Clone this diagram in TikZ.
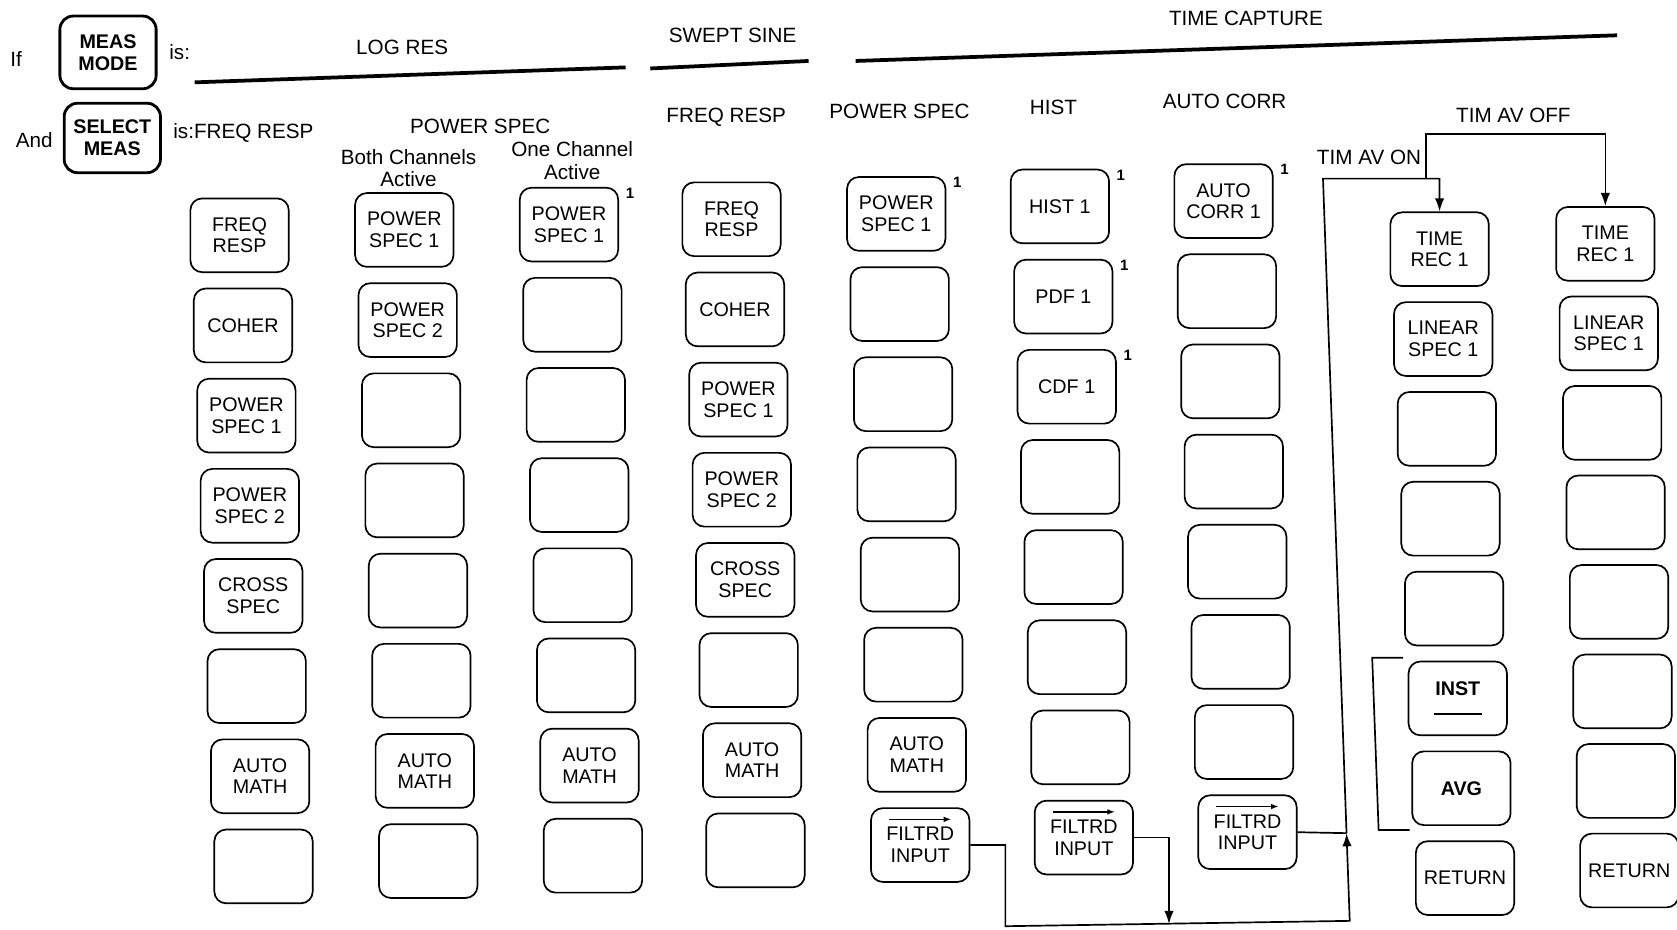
\documentclass[tikz,border=0pt]{standalone}
\usepackage{fontspec}
\setmainfont{Liberation Sans}
\usetikzlibrary{arrows.meta,positioning}

\newcommand\keyfont{\fontsize{10.5}{11.5}\selectfont}
\newcommand\hdrfont{\fontsize{11}{12}\selectfont}
\newcommand\instkey{\textbf{INST}\\[-1pt]\rule{0.9cm}{0.9pt}}

\begin{document}
\begin{tikzpicture}[
    x=0.02cm, y=-0.02cm,
    key/.style={
        draw,
        line width=0.9pt,
        rounded corners=0.22cm,
        minimum width=1.84cm,
        minimum height=1.38cm,
        align=center,
        inner sep=1pt,
        font=\keyfont
    },
    mode/.style={
        draw,
        line width=1.5pt,
        rounded corners=0.25cm,
        minimum width=1.8cm,
        minimum height=1.36cm,
        align=center,
        font=\keyfont\bfseries
    },
    hdr/.style={font=\hdrfont, align=center, inner sep=1pt},
    sup/.style={font=\fontsize{8}{8}\selectfont\bfseries, inner sep=0pt, anchor=west},
    bar/.style={line width=2pt},
    wire/.style={line width=0.9pt, >={Latex[length=7pt,width=5pt]}}
]
\useasboundingbox (0,0) rectangle (1568,869);

% Mode and measurement keys
\node[hdr] (ifl) at (15,55) {If};
\node[mode] (meas) at (101,49) {MEAS\\MODE};
\node[hdr] (is1) at (168,49) {is:};
\node[hdr] (andl) at (32,131) {And};
\node[mode, minimum height=1.3cm] (select) at (105,129) {SELECT\\MEAS};
\node[hdr, anchor=west] (is2) at (160,124) {is:FREQ RESP};

% Measurement modes
\node[hdr] (logres) at (376,44) {LOG RES};
\node[hdr] (swept) at (685,33) {SWEPT SINE};
\node[hdr] (tcap) at (1165,17) {TIME CAPTURE};
\draw[bar] (182,77) -- (585,63);
\draw[bar] (608,64) -- (756,57);
\draw[bar] (800,57) -- (1512,33);

% Selected measurements
\node[hdr] (pspec) at (449,118) {POWER SPEC};
\node[hdr] (both) at (382,157) {Both Channels\\Active};
\node[hdr] (one) at (535,150) {One Channel\\Active};
\node[hdr] (sfreq) at (679,110) {FREQ RESP};
\node[hdr] (tpspec) at (841,104) {POWER SPEC};
\node[hdr] (hist) at (985,100) {HIST};
\node[hdr] (acorr) at (1145,95) {AUTO CORR};
\node[hdr] (avoff) at (1415,108) {TIM AV OFF};
\node[hdr] (avon) at (1280,147) {TIM AV ON};

% Softkey columns
\foreach \r/\txt in {0/{FREQ\\RESP},1/COHER,2/{POWER\\SPEC 1},3/{POWER\\SPEC 2},4/{CROSS\\SPEC},5/{},6/{AUTO\\MATH},7/{}}
    \node[key] (a\r) at (224+3.2*\r, 220+84.3*\r) {\txt};
\foreach \r/\txt in {0/{POWER\\SPEC 1},1/{POWER\\SPEC 2},2/{},3/{},4/{},5/{},6/{AUTO\\MATH},7/{}}
    \node[key] (b\r) at (378+3.2*\r, 215+84.3*\r) {\txt};
\foreach \r/\txt in {0/{POWER\\SPEC 1},1/{},2/{},3/{},4/{},5/{},6/{AUTO\\MATH},7/{}}
    \node[key] (c\r) at (532+3.2*\r, 210+84.3*\r) {\txt};
\foreach \r/\txt in {0/{FREQ\\RESP},1/COHER,2/{POWER\\SPEC 1},3/{POWER\\SPEC 2},4/{CROSS\\SPEC},5/{},6/{AUTO\\MATH},7/{}}
    \node[key] (d\r) at (684+3.2*\r, 205+84.3*\r) {\txt};
\foreach \r/\txt in {0/{POWER\\SPEC 1},1/{},2/{},3/{},4/{},5/{},6/{AUTO\\MATH},7/{FILTRD\\INPUT}}
    \node[key] (e\r) at (838+3.2*\r, 200+84.3*\r) {\txt};
\foreach \r/\txt in {0/{HIST 1},1/{PDF 1},2/{CDF 1},3/{},4/{},5/{},6/{},7/{FILTRD\\INPUT}}
    \node[key] (f\r) at (991+3.2*\r, 193+84.3*\r) {\txt};
\foreach \r/\txt in {0/{AUTO\\CORR 1},1/{},2/{},3/{},4/{},5/{},6/{},7/{FILTRD\\INPUT}}
    \node[key] (g\r) at (1144+3.2*\r, 188+84.3*\r) {\txt};
\foreach \r/\txt in {0/{TIME\\REC 1},1/{LINEAR\\SPEC 1},2/{},3/{},4/{},5/{\instkey},6/{\textbf{AVG}},7/RETURN}
    \node[key] (h\r) at (1346+3.4*\r, 233+84*\r) {\txt};
\foreach \r/\txt in {0/{TIME\\REC 1},1/{LINEAR\\SPEC 1},2/{},3/{},4/{},5/{},6/{},7/RETURN}
    \node[key] (i\r) at (1501+3.2*\r, 228+83.7*\r) {\txt};

% Arrow over FILTRD
\foreach \n in {e7,f7,g7}
    \draw[line width=0.7pt, -{Latex[length=4pt,width=3pt]}] ([shift={(-29,-24)}]\n.center) -- ([shift={(29,-24)}]\n.center);

% Footnote marks
\foreach \n in {c0,e0,f0,f1,f2,g0}
    \node[sup] (s\n) at ([shift={(6,6)}]\n.north east) {1};

% Filtered input routing
\coordinate (bl) at (940,866);
\coordinate (br) at (1262,861);
\coordinate (mj) at (1093,864);
\coordinate (jn) at (1259,779);
\coordinate (tl) at (1237,167);
\coordinate (tm) at (1333,167);
\draw[wire,->] (e7.east) -| (bl) -- (br) -- (jn);
\draw[wire,->] (f7.east) -| (mj);
\draw[wire] (g7.east) -- (jn);
\draw[wire,->] (jn) -- (tl) -| (h0.north);
\draw[wire,->] (tm) -- ++(0,-42) -| (i0.north);

% Bracket round INST / AVG
\draw[wire] (1312,615) -- (1283,615) -- (1289,776) -- (1318,776);
\end{tikzpicture}
\end{document}
